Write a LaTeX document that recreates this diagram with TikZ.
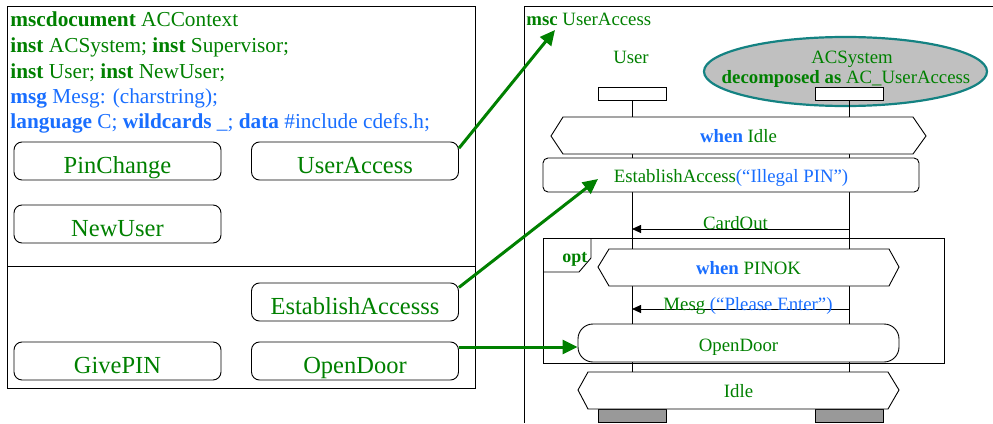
\documentclass[tikz,border=0pt]{standalone}
\usepackage{fontspec}
\setmainfont{Liberation Serif}
\usetikzlibrary{arrows.meta,shapes.geometric}

\definecolor{mscgreen}{RGB}{0,128,0}
\definecolor{mscblue}{RGB}{25,110,255}
\definecolor{tealline}{RGB}{20,130,130}
\definecolor{ellfill}{RGB}{192,192,192}
\definecolor{endgray}{RGB}{153,153,153}

\begin{document}
\begin{tikzpicture}[x=1pt,y=-1pt,line width=0.9pt,
  hdrline/.style={anchor=base west,inner sep=0pt,font=\fontsize{21.3}{25}\selectfont},
  docbox/.style={draw,rounded corners=8pt,minimum width=207pt,minimum height=38pt,
    inner sep=0pt,text height=24pt,text depth=0pt,text=mscgreen,
    font=\fontsize{24.5}{28}\selectfont},
  msctext/.style={inner sep=0pt,font=\fontsize{18.8}{22}\selectfont},
  headbox/.style={draw,fill=white,minimum width=68pt,minimum height=13pt,inner sep=0pt},
  endbox/.style={draw,fill=endgray,minimum width=68pt,minimum height=13pt,inner sep=0pt},
  refarrow/.style={draw=mscgreen,line width=3pt,-{Triangle[length=15pt,width=14pt]}},
  msgarrow/.style={-{Triangle[length=9pt,width=8pt]}},
  hexa/.style={draw,fill=white}]
\useasboundingbox (0,0) rectangle (993,423);

% ---------- MSC document ACContext ----------
\draw (7,6) rectangle (475,388);
\draw (7,266) -- (475,266);

\node[hdrline,text=mscgreen] (hdr1) at (10,27) {\textbf{mscdocument} ACContext};
\node[hdrline,text=mscgreen] (hdr2) at (10,52.5) {\textbf{inst} ACSystem; \textbf{inst} Supervisor;};
\node[hdrline,text=mscgreen] (hdr3) at (10,78) {\textbf{inst} User; \textbf{inst} NewUser;};
\node[hdrline,text=mscblue] (hdr4) at (10,103) {\textbf{msg} Mesg: (charstring);};
\node[hdrline,text=mscblue] (hdr5) at (10,128) {\textbf{language} C; \textbf{wildcards} \_; \textbf{data} \#include cdefs.h;};

\node[docbox] (pinchange) at (117.5,161) {PinChange};
\node[docbox] (useraccess) at (355,161) {UserAccess};
\node[docbox] (newuser) at (117.5,224) {NewUser};
\node[docbox] (establish) at (355,302) {EstablishAccesss};
\node[docbox] (givepin) at (117.5,361) {GivePIN};
\node[docbox] (opendoor) at (355,361) {OpenDoor};

% ---------- MSC UserAccess ----------
\draw (993,6) -- (524,6) -- (524,423);
\node[msctext,anchor=base west,text=mscgreen] (msctitle) at (526,25) {\textbf{msc} UserAccess};

% instance ACSystem (decomposed)
\node[ellipse,draw=tealline,line width=2.2pt,fill=ellfill,minimum width=283pt,
  minimum height=69pt,inner sep=0pt] (acsell) at (845.5,71.5) {};
\node[msctext,anchor=base,text=mscgreen] (acsname) at (852,63) {ACSystem};
\node[msctext,anchor=base,text=mscgreen] (acsdecomp) at (846,83) {\textbf{decomposed as} AC\_UserAccess};
\node[msctext,anchor=base,text=mscgreen] (username) at (631,63) {User};

% lifelines
\node[headbox] (userhead) at (632,93.5) {};
\node[headbox] (acshead) at (849.5,93.5) {};
\node[endbox] (userend) at (632,415.5) {};
\node[endbox] (acsend) at (849.5,415.5) {};
\draw (userhead.south) -- (userend.north);
\draw (acshead.south) -- (acsend.north);

% condition: when Idle
\draw[hexa] (551,136) -- (563,117) -- (913,117) -- (926,136) -- (913,154) -- (563,154) -- cycle;
\node[msctext,anchor=base] (whenidle) at (738.5,142) {\textcolor{mscblue}{\textbf{when}} \textcolor{mscgreen}{Idle}};

% reference EstablishAccess
\node[draw,fill=white,rounded corners=5pt,minimum width=376pt,minimum height=34pt,
  inner sep=0pt,text height=14pt,text depth=0pt,msctext] (estabref) at (731,175)
  {\textcolor{mscgreen}{EstablishAccess}\textcolor{mscblue}{(“Illegal PIN”)}};

% message CardOut
\draw[msgarrow] (acshead |- 0,229) -- (userhead |- 0,229);
\node[msctext,anchor=base,text=mscgreen] (cardout) at (735.5,229) {CardOut};

% opt inline expression
\draw (543,238) rectangle (944,363);
\draw (591,238) -- (591,258) -- (579,272) -- (543,272);
\node[msctext,anchor=base west,text=mscgreen,font=\fontsize{18}{22}\selectfont\bfseries] (optlabel) at (562,262) {opt};

% condition: when PINOK
\draw[hexa] (598,267) -- (609,249) -- (889,249) -- (899,267) -- (889,286) -- (609,286) -- cycle;
\node[msctext,anchor=base] (whenpinok) at (748.5,274) {\textcolor{mscblue}{\textbf{when}} \textcolor{mscgreen}{PINOK}};

% message Mesg
\draw[msgarrow] (acshead |- 0,309) -- (userhead |- 0,309);
\node[msctext,anchor=base] (mesg) at (748,310.5) {\textcolor{mscgreen}{Mesg} \textcolor{mscblue}{(“Please Enter”)}};

% reference OpenDoor
\node[draw,fill=white,rounded corners=15pt,minimum width=321pt,minimum height=38pt,
  inner sep=0pt,text height=16pt,text depth=0pt,msctext,text=mscgreen] (opendoorref) at (738.5,343) {OpenDoor};

% condition: Idle
\draw[hexa] (578,390) -- (588,372) -- (888,372) -- (899,390) -- (888,409) -- (588,409) -- cycle;
\node[msctext,anchor=base,text=mscgreen] (idle) at (738.5,397) {Idle};

% ---------- links from the document to the MSC ----------
\coordinate (titletip) at (555,30);
\coordinate (estabtip) at (598,179);
\draw[refarrow] (useraccess.7) -- (titletip);
\draw[refarrow] (establish.8) -- (estabtip);
\draw[refarrow] ([yshift=14pt]opendoor.east) -- ([yshift=-4pt]opendoorref.west);
\end{tikzpicture}
\end{document}
